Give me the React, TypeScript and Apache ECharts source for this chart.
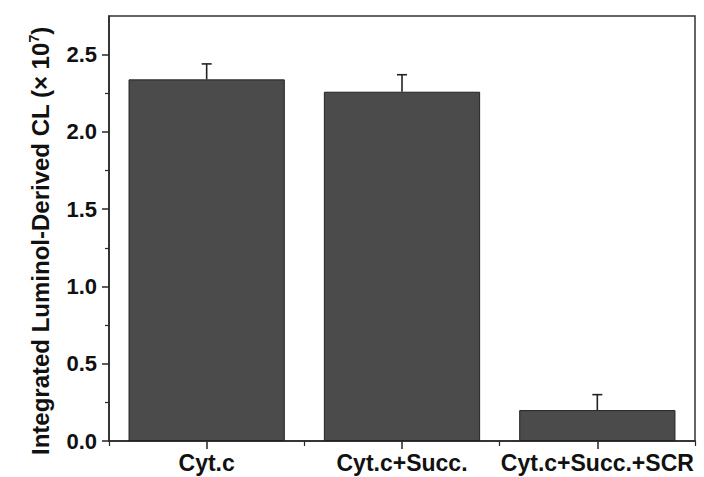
import React, { useEffect, useRef } from "react";
import * as echarts from "echarts";

const categories = ["Cyt.c", "Cyt.c+Succ.", "Cyt.c+Succ.+SCR"];
const values = [2.34, 2.26, 0.2];
const errors = [0.1, 0.11, 0.1];
const yMajorTicks = [0, 0.5, 1.0, 1.5, 2.0, 2.5];
const yMinorTicks = [0.25, 0.75, 1.25, 1.75, 2.25];
const yAxisTitle = "Integrated Luminol-Derived CL (× 10{sup|7})";

export default function App() {
  const ref = useRef<HTMLDivElement>(null);
  useEffect(() => {
    document.body.style.margin = "0";
    if (!ref.current) return;
    const chart = echarts.init(ref.current, undefined, { renderer: "svg" });
    const font = "'Liberation Sans', Arial, sans-serif";
    const dark = "#262626";
    chart.setOption({
      animation: false,
      backgroundColor: "#ffffff",
      grid: {
        left: 109,
        right: 9,
        top: 16,
        bottom: 36,
        show: true,
        borderColor: "#333",
        borderWidth: 1.5,
        containLabel: false,
        outerBoundsMode: "none",
      },
      xAxis: [
        {
          type: "category",
          data: categories,
          position: "bottom",
          axisLine: { show: true, lineStyle: { color: dark, width: 1.5 } },
          axisTick: { show: true, alignWithLabel: true, length: 8, lineStyle: { color: dark, width: 1.5 } },
          axisLabel: {
            show: true,
            interval: 0,
            hideOverlap: false,
            margin: 10,
            color: "#111",
            fontFamily: font,
            fontWeight: "bold",
            fontSize: 23,
          },
          splitLine: { show: false },
        },
        {
          type: "category",
          data: categories,
          position: "bottom",
          axisLine: { show: false },
          axisTick: { show: true, alignWithLabel: false, length: 5, lineStyle: { color: dark, width: 1.2 } },
          axisLabel: { show: false },
          splitLine: { show: false },
        },
      ],
      yAxis: [
        {
          type: "value",
          min: 0,
          max: 2.75,
          position: "left",
          axisLine: { show: true, lineStyle: { color: dark, width: 1.5 } },
          axisTick: { show: true, customValues: yMajorTicks, length: 7, lineStyle: { color: dark, width: 1.5 } },
          axisLabel: {
            show: true,
            customValues: yMajorTicks,
            formatter: (v: number) => v.toFixed(1),
            margin: 12,
            color: "#111",
            fontFamily: font,
            fontWeight: "bold",
            fontSize: 22,
          },
          splitLine: { show: false },
        },
        {
          type: "value",
          min: 0,
          max: 2.75,
          position: "left",
          axisLine: { show: false },
          axisTick: { show: true, customValues: yMinorTicks, length: 4, lineStyle: { color: dark, width: 1.2 } },
          axisLabel: { show: false },
          splitLine: { show: false },
        },
      ],
      graphic: [
        {
          type: "text",
          x: 40,
          y: 241,
          rotation: Math.PI / 2,
          style: {
            text: yAxisTitle,
            fill: "#111",
            font: `bold 24px ${font}`,
            align: "center",
            verticalAlign: "middle",
            rich: {
              sup: {
                fontSize: 14,
                fontWeight: "bold",
                fontFamily: font,
                fill: "#111",
                padding: [0, 0, 12, 0],
              },
            },
          },
        },
      ],
      series: [
        {
          type: "bar",
          xAxisIndex: 0,
          yAxisIndex: 0,
          data: values,
          barWidth: "80%",
          itemStyle: { color: "#4b4b4b", borderColor: "#222", borderWidth: 1 },
          z: 2,
        },
        {
          type: "custom",
          xAxisIndex: 0,
          yAxisIndex: 0,
          data: values.map((v, i) => [i, v, errors[i]]),
          z: 3,
          renderItem: (params: any, api: any) => {
            const x = api.value(0);
            const v = api.value(1);
            const e = api.value(2);
            const base = api.coord([x, v]);
            const top = api.coord([x, v + e]);
            const cap = 5;
            const st = { stroke: "#222", lineWidth: 1.6 };
            return {
              type: "group",
              children: [
                { type: "line", shape: { x1: base[0], y1: base[1], x2: top[0], y2: top[1] }, style: st },
                { type: "line", shape: { x1: top[0] - cap, y1: top[1], x2: top[0] + cap, y2: top[1] }, style: st },
              ],
            };
          },
        },
      ],
    });
    return () => chart.dispose();
  }, []);
  return <div ref={ref} style={{ width: 704, height: 477 }} />;
}
